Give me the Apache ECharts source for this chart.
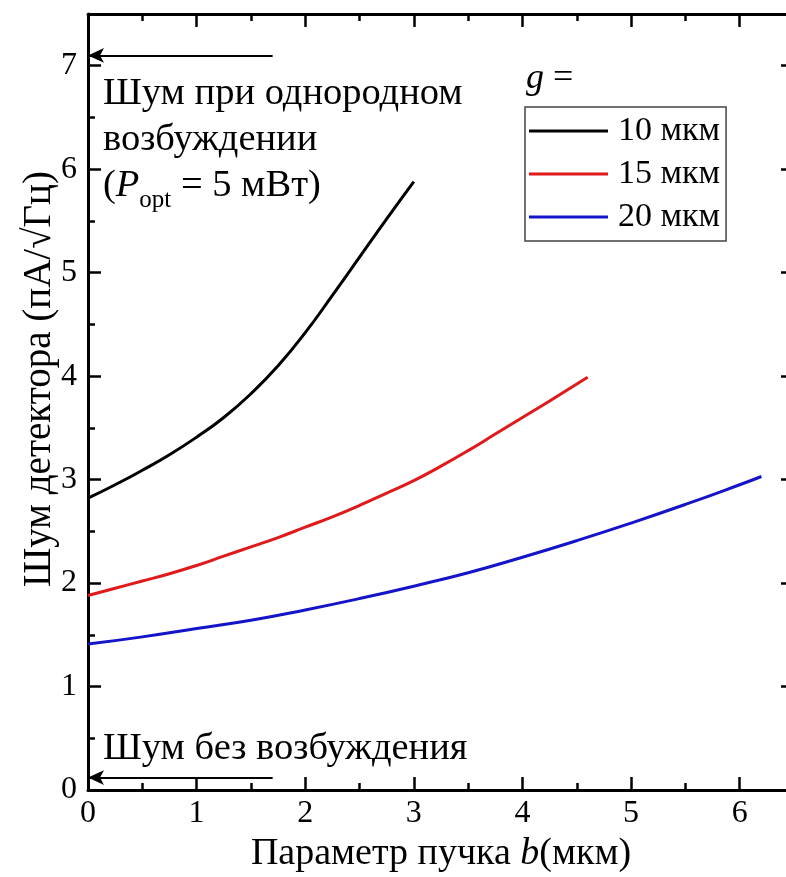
<!DOCTYPE html>
<html>
<head>
<meta charset="utf-8">
<script src="https://cdn.jsdelivr.net/npm/echarts@6/dist/echarts.min.js"></script>
<style>
html,body{margin:0;padding:0;background:#fff;}
#chart{width:786px;height:877px;}
</style>
</head>
<body>
<div id="chart"></div>
<script>
// ---- data ----
const seriesNames = ['10 мкм', '15 мкм', '20 мкм'];
const xBlack = [0, 0.25, 0.5, 0.75, 1, 1.25, 1.5, 1.75, 2, 2.25, 2.5, 2.75, 3];
const yBlack = [2.82, 2.95, 3.09, 3.24, 3.41, 3.60, 3.83, 4.10, 4.42, 4.78, 5.15, 5.52, 5.88];
const xRed = [0, 0.25, 0.5, 0.75, 1, 1.25, 1.5, 1.75, 2, 2.25, 2.5, 2.75, 3, 3.25, 3.5, 3.75, 4, 4.25, 4.6];
const yRed = [1.88, 1.95, 2.02, 2.09, 2.17, 2.26, 2.35, 2.44, 2.54, 2.64, 2.75, 2.87, 2.99, 3.13, 3.28, 3.44, 3.60, 3.76, 3.99];
const xBlue = [0, 0.5, 1, 1.5, 2, 2.5, 3, 3.5, 4, 4.5, 5, 5.5, 6, 6.2];
const yBlue = [1.41, 1.48, 1.56, 1.64, 1.74, 1.85, 1.97, 2.10, 2.25, 2.41, 2.58, 2.76, 2.95, 3.03];
const arrowLevels = [7.1, 0.12];   // "uniform excitation" and "no excitation" noise levels
const arrowStartX = 0;
const arrowEndX = 1.7;
const xRange = [0, 6.5];
const yRange = [0, 7.5];
const xTitle = 'Параметр пучка {i|b}(мкм)';
const yTitle = 'Шум детектора (пА/√Гц)';

const FONT = '"Liberation Serif", "DejaVu Serif", serif';
const colors = ['#000000', '#e0191b', '#1414c8'];

function pairs(xs, ys) { return xs.map((x, i) => [x, ys[i]]); }

const chart = echarts.init(document.getElementById('chart'), null, {renderer: 'canvas'});

function mainX(pos, labels) {
  return {
    type: 'value', position: pos, gridIndex: 0, min: xRange[0], max: xRange[1], interval: 1,
    axisLine: {show: true, onZero: false, lineStyle: {color: '#000', width: 3}},
    axisTick: {show: true, inside: true, length: 13, lineStyle: {color: '#000', width: 2.5}},
    axisLabel: labels ? {show: true, fontFamily: FONT, fontSize: 32, color: '#000', margin: 8,
      showMaxLabel: false, formatter: v => (Number.isInteger(v) ? String(v) : '')} : {show: false},
    splitLine: {show: false}
  };
}
function minorX(pos) {
  return {
    type: 'value', position: pos, gridIndex: 0, min: xRange[0], max: xRange[1], interval: 0.5,
    axisLine: {show: false, onZero: false},
    axisTick: {show: true, inside: true, length: 7, lineStyle: {color: '#000', width: 2.5}},
    axisLabel: {show: false}, splitLine: {show: false}
  };
}
function mainY(pos, labels) {
  return {
    type: 'value', position: pos, gridIndex: 0, min: yRange[0], max: yRange[1], interval: 1,
    axisLine: {show: true, onZero: false, lineStyle: {color: '#000', width: 3}},
    axisTick: {show: true, inside: true, length: 13, lineStyle: {color: '#000', width: 2.5}},
    axisLabel: labels ? {show: true, fontFamily: FONT, fontSize: 32, color: '#000', margin: 11,
      showMaxLabel: false, formatter: v => (Number.isInteger(v) ? String(v) : '')} : {show: false},
    splitLine: {show: false}
  };
}
function minorY(pos) {
  return {
    type: 'value', position: pos, gridIndex: 0, min: yRange[0], max: yRange[1], interval: 0.5,
    axisLine: {show: false, onZero: false},
    axisTick: {show: true, inside: true, length: 7, lineStyle: {color: '#000', width: 2.5}},
    axisLabel: {show: false}, splitLine: {show: false}
  };
}

const xMain = mainX('bottom', true);
xMain.name = xTitle;
xMain.nameLocation = 'middle';
xMain.nameGap = 44;
xMain.nameTextStyle = {fontFamily: FONT, fontSize: 38, color: '#000',
  rich: {i: {fontFamily: FONT, fontSize: 38, fontStyle: 'italic', color: '#000'}}};

const lineSeries = [[xBlack, yBlack], [xRed, yRed], [xBlue, yBlue]].map((d, i) => ({
  name: seriesNames[i], type: 'line', xAxisIndex: 0, yAxisIndex: 0,
  data: pairs(d[0], d[1]), smooth: 0.5, symbol: 'none', showSymbol: false,
  lineStyle: {color: colors[i], width: 3}, itemStyle: {color: colors[i]},
  animation: false, z: 3
}));

const arrowSeries = {
  name: 'arrows', type: 'line', xAxisIndex: 0, yAxisIndex: 0, data: [], animation: false,
  markLine: {
    silent: true, animation: false,
    symbol: ['arrow', 'none'], symbolSize: [11, 16],
    label: {show: false},
    lineStyle: {color: '#000', width: 2, type: 'solid'},
    emphasis: {disabled: true},
    data: arrowLevels.map(v => [{coord: [arrowStartX, v]}, {coord: [arrowEndX, v]}])
  }
};

const option = {
  backgroundColor: '#fff',
  animation: false,
  grid: {left: 88, right: -8, top: 14, bottom: 87, containLabel: false, outerBoundsMode: 'none'},
  xAxis: [xMain, minorX('bottom'), mainX('top', false), minorX('top')],
  yAxis: [mainY('left', true), minorY('left'), mainY('right', false), minorY('right')],
  legend: {
    data: seriesNames, orient: 'vertical', left: 525, top: 107,
    icon: 'rect', itemWidth: 79, itemHeight: 3, itemGap: 9,
    padding: [7, 6, 7, 4],
    borderColor: '#444', borderWidth: 1.5, backgroundColor: '#fff',
    selectedMode: false,
    textStyle: {fontFamily: FONT, fontSize: 34, color: '#000', lineHeight: 34, padding: [0, 0, 0, 5]}
  },
  graphic: [
    {type: 'text', x: 103, y: 94, silent: true, z: 10,
      style: {text: 'Шум при однородном', fill: '#000', font: '38.5px ' + FONT, verticalAlign: 'middle'}},
    {type: 'text', x: 103, y: 140, silent: true, z: 10,
      style: {text: 'возбуждении', fill: '#000', font: '38.5px ' + FONT, verticalAlign: 'middle'}},
    {type: 'text', x: 103, y: 186, silent: true, z: 10,
      style: {
        text: '{n|(}{i|P}{s|opt}{n| = 5 мВт)}',
        fill: '#000', font: '38.5px ' + FONT, verticalAlign: 'middle',
        rich: {
          n: {fontFamily: FONT, fontSize: 38.5, lineHeight: 54, verticalAlign: 'middle', fill: '#000'},
          i: {fontFamily: FONT, fontSize: 38.5, fontStyle: 'italic', lineHeight: 54, verticalAlign: 'middle', fill: '#000'},
          s: {fontFamily: FONT, fontSize: 25, verticalAlign: 'bottom', fill: '#000'}
        }
      }},
    {type: 'text', x: 103, y: 749, silent: true, z: 10,
      style: {text: 'Шум без возбуждения', fill: '#000', font: '38.5px ' + FONT, verticalAlign: 'middle'}},
    {type: 'text', x: 526, y: 79, silent: true, z: 10,
      style: {text: '{i|g} =', fill: '#000', font: '36px ' + FONT, verticalAlign: 'middle',
        rich: {i: {fontFamily: FONT, fontSize: 36, fontStyle: 'italic', fill: '#000'}}}},
    {type: 'text', x: 40, y: 379, rotation: Math.PI / 2, silent: true, z: 10,
      style: {text: yTitle, fill: '#000', font: '39px ' + FONT, align: 'center', verticalAlign: 'middle'}}
  ],
  series: lineSeries.concat([arrowSeries])
};
chart.setOption(option);
</script>
</body>
</html>
